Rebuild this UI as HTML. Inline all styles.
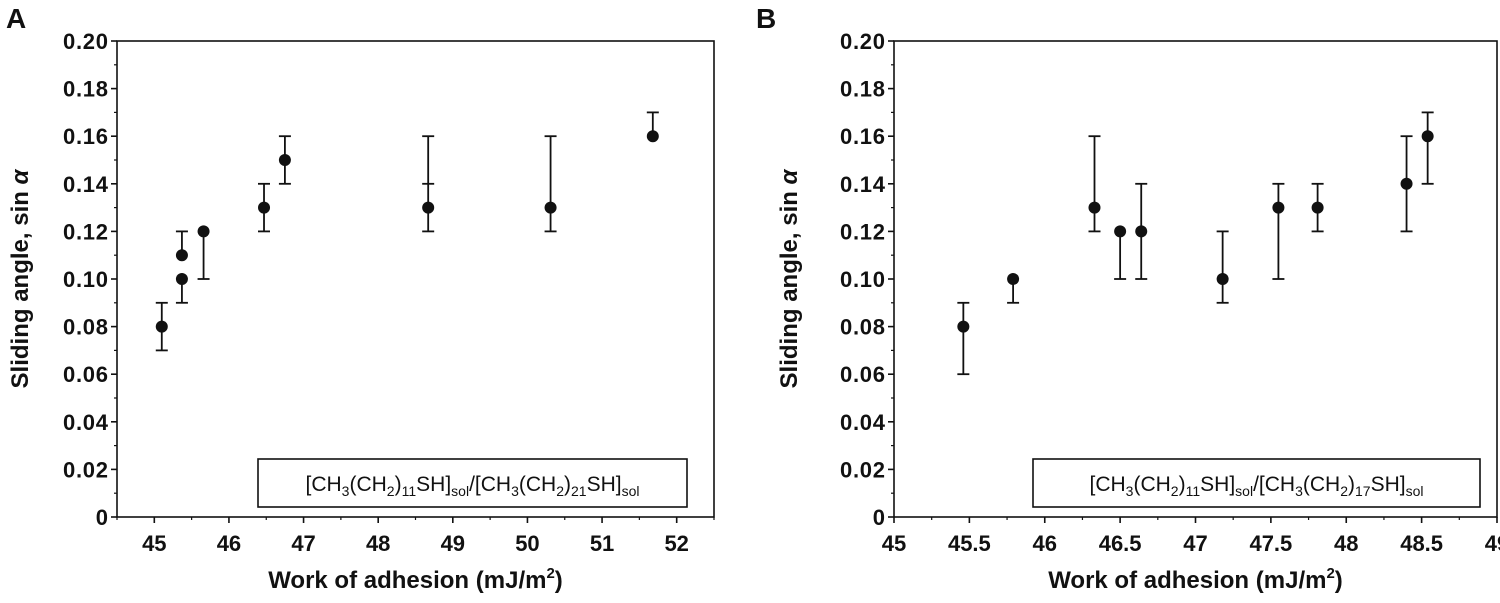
<!DOCTYPE html>
<html><head><meta charset="utf-8"><style>
body{margin:0;background:#fff;width:1500px;height:603px;overflow:hidden}
svg{display:block}
text{font-family:"Liberation Sans",sans-serif;font-weight:bold;fill:#111}
</style></head><body>
<svg id="chart" width="1500" height="603" viewBox="0 0 1500 603" xmlns="http://www.w3.org/2000/svg"></svg>
<script>
const aX=[45.10,45.37,45.37,45.66,46.47,46.75,48.67,50.31,51.68];
const aY=[0.08,0.10,0.11,0.12,0.13,0.15,0.13,0.13,0.16];
const aLo=[0.07,0.09,0.11,0.10,0.12,0.14,0.12,0.12,0.16];
const aHi=[0.09,0.10,0.12,0.12,0.14,0.16,0.16,0.16,0.17];
const aMid=[null,null,null,null,null,null,0.14,null,null];
const bX=[45.46,45.79,46.33,46.50,46.64,47.18,47.55,47.81,48.40,48.54];
const bY=[0.08,0.10,0.13,0.12,0.12,0.10,0.13,0.13,0.14,0.16];
const bLo=[0.06,0.09,0.12,0.10,0.10,0.09,0.10,0.12,0.12,0.14];
const bHi=[0.09,0.10,0.16,0.12,0.14,0.12,0.14,0.14,0.16,0.17];
const bMid=[null,null,null,null,null,null,null,null,null,null];
const aXTicks=[45,46,47,48,49,50,51,52];
const bXTicks=[45,45.5,46,46.5,47,47.5,48,48.5,49];
const yTicks=[0,0.02,0.04,0.06,0.08,0.10,0.12,0.14,0.16,0.18,0.20];
const yLabels=["0","0.02","0.04","0.06","0.08","0.10","0.12","0.14","0.16","0.18","0.20"];
const svg=document.getElementById('chart');
const NS="http://www.w3.org/2000/svg";
function mk(tag,at,parent){const e=document.createElementNS(NS,tag);for(const k in at)e.setAttribute(k,at[k]);(parent||svg).appendChild(e);return e;}
function panel(p){
  const g=mk('g',{});
  
  
  const sx=v=>p.l+(v-p.x0)/(p.x1-p.x0)*(p.r-p.l);
  const sy=v=>p.b-(v-0)/(0.2)*(p.b-p.t);
  const frame=mk('rect',{x:p.l,y:p.t,width:p.r-p.l,height:p.b-p.t,fill:'none',stroke:'#111','stroke-width':1.6},g);
  
  
  yTicks.forEach((v,i)=>{
    const y=sy(v);
    mk('line',{x1:p.l-6,x2:p.l,y1:y,y2:y,stroke:'#111','stroke-width':1.6},g);
    if(i<yTicks.length-1){const ym=sy(v+0.01);mk('line',{x1:p.l-3,x2:p.l,y1:ym,y2:ym,stroke:'#111','stroke-width':1.2},g);}
    const t=mk('text',{x:p.l-9,y:y+8,'text-anchor':'end','font-size':22,textLength:v===0?null:45},g);
    if(v===0)t.removeAttribute('textLength');
    t.textContent=yLabels[i];
    
    
  });
  p.xt.forEach((v,i)=>{
    const x=sx(v);
    mk('line',{x1:x,x2:x,y1:p.b,y2:p.b+6,stroke:'#111','stroke-width':1.6},g);
    const xm=sx(v+p.minor);if(xm<=p.r+0.5)mk('line',{x1:xm,x2:xm,y1:p.b,y2:p.b+3,stroke:'#111','stroke-width':1.2},g);
    const t=mk('text',{x:x,y:p.b+34,'text-anchor':'middle','font-size':22},g);
    t.textContent=String(v);
    
    
  });
  if(p.x0<p.xt[0]){const xm=sx(p.xt[0]-p.minor);mk('line',{x1:xm,x2:xm,y1:p.b,y2:p.b+3,stroke:'#111','stroke-width':1.2},g);}
  p.X.forEach((xv,i)=>{
    const x=sx(xv);
    const eb=mk('g',{},g);
    
    
    if(p.Hi[i]>p.Lo[i]){
      mk('line',{x1:x,x2:x,y1:sy(p.Lo[i]),y2:sy(p.Hi[i]),stroke:'#111','stroke-width':1.8},eb);
      [p.Lo[i],p.Hi[i]].forEach(v=>{if(v!==p.Y[i])mk('line',{x1:x-6,x2:x+6,y1:sy(v),y2:sy(v),stroke:'#111','stroke-width':1.8},eb);});
    }
    if(p.Mid[i]!==null)mk('line',{x1:x-6,x2:x+6,y1:sy(p.Mid[i]),y2:sy(p.Mid[i]),stroke:'#111','stroke-width':1.8},eb);
    const c=mk('circle',{cx:x,cy:sy(p.Y[i]),r:6,fill:'#111'},g);
    
    
  });
  const lg=mk('g',{},g);
  
  
  mk('rect',{x:p.lgx,y:459,width:p.lgw,height:48,fill:'#fff',stroke:'#111','stroke-width':1.6},lg);
  const lt=mk('text',{x:p.lgx+p.lgw/2,y:491,'text-anchor':'middle','font-size':21,style:'font-weight:normal'},lg);
  lt.innerHTML='[CH<tspan font-size="14" dy="5">3</tspan><tspan dy="-5">(CH</tspan><tspan font-size="14" dy="5">2</tspan><tspan dy="-5">)</tspan><tspan font-size="14" dy="5">11</tspan><tspan dy="-5">SH]</tspan><tspan font-size="14" dy="5">sol</tspan><tspan dy="-5">/[CH</tspan><tspan font-size="14" dy="5">3</tspan><tspan dy="-5">(CH</tspan><tspan font-size="14" dy="5">2</tspan><tspan dy="-5">)</tspan><tspan font-size="14" dy="5">'+p.n2+'</tspan><tspan dy="-5">SH]</tspan><tspan font-size="14" dy="5">sol</tspan>';
  const yt=mk('text',{x:0,y:0,'text-anchor':'middle','font-size':24,transform:'translate('+p.ytx+','+((p.t+p.b)/2)+') rotate(-90)'},g);
  yt.innerHTML='Sliding angle, sin <tspan font-style="italic">α</tspan>';
  
  
  const xt=mk('text',{x:(p.l+p.r)/2,y:588,'text-anchor':'middle','font-size':24},g);
  xt.innerHTML='Work of adhesion (mJ/m<tspan font-size="15" dy="-10">2</tspan><tspan dy="10">)</tspan>';
  
  
  const pl=mk('text',{x:p.lx,y:28,'font-size':28},g);
  pl.textContent=p.id;
  
  
}
panel({id:'A',l:117,r:714,t:41,b:517,x0:44.5,x1:52.5,xt:aXTicks,minor:0.5,X:aX,Y:aY,Lo:aLo,Hi:aHi,Mid:aMid,lgx:258,lgw:429,n2:'21',ytx:28,lx:6});
panel({id:'B',l:894,r:1497,t:41,b:517,x0:45,x1:49,xt:bXTicks,minor:0.25,X:bX,Y:bY,Lo:bLo,Hi:bHi,Mid:bMid,lgx:1033,lgw:447,n2:'17',ytx:797,lx:756});
</script>
</body></html>
